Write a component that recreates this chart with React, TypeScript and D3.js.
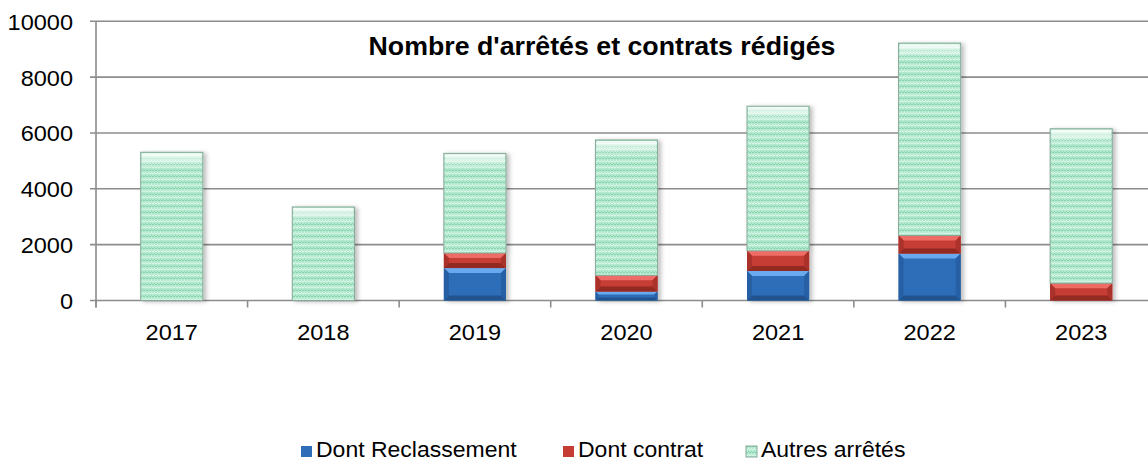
import React, { useEffect, useRef } from "react";
import * as d3 from "d3";

const years = ["2017", "2018", "2019", "2020", "2021", "2022", "2023"];
const reclassement = [0, 0, 1160, 320, 1060, 1680, 0];
const contrat = [0, 0, 540, 580, 720, 650, 620];
const autres = [5310, 3350, 3570, 4850, 5180, 6890, 5530];
const yTicks = [0, 2000, 4000, 6000, 8000, 10000];
const seriesNames = ["Dont Reclassement", "Dont contrat", "Autres arrêtés"];
const title = "Nombre d'arrêtés et contrats rédigés";

const W = 1148;
const H = 462;
const FONT = "'Liberation Sans', Arial, sans-serif";
const STRETCH = 1.07; // text in the original is a little wide

const App = () => {
  const svgRef = useRef<SVGSVGElement>(null);

  useEffect(() => {
    const svg = d3.select(svgRef.current);
    svg.selectAll("*").remove();

    const left = 96, right = 1157, top = 21.3, bottom = 300.5;

    const x = d3.scaleBand().domain(years).range([left, right]).paddingInner(0.59).paddingOuter(0.295);
    const y = d3.scaleLinear().domain([0, 10000]).range([bottom, top]);

    const defs = svg.append("defs");

    // textured mint pattern for "Autres arrêtés"
    const pat = defs.append("pattern")
      .attr("id", "weave").attr("patternUnits", "userSpaceOnUse")
      .attr("width", 6).attr("height", 6);
    pat.append("rect").attr("width", 6).attr("height", 6).attr("fill", "#b2e9cf");
    pat.append("path").attr("d", "M0,3 L1.5,1.5 L3,3 L4.5,1.5 L6,3")
      .attr("stroke", "#8ad2ae").attr("stroke-width", 1).attr("fill", "none");
    pat.append("path").attr("d", "M0,6 L1.5,4.5 L3,6 L4.5,4.5 L6,6")
      .attr("stroke", "#e3f8ee").attr("stroke-width", 0.9).attr("fill", "none");

    const shine = defs.append("linearGradient").attr("id", "shine")
      .attr("x1", 0).attr("y1", 0).attr("x2", 0).attr("y2", 1);
    shine.append("stop").attr("offset", 0).attr("stop-color", "#fff").attr("stop-opacity", 0.85);
    shine.append("stop").attr("offset", 1).attr("stop-color", "#fff").attr("stop-opacity", 0);

    const shadow = defs.append("filter").attr("id", "shadow")
      .attr("x", "-20%").attr("y", "-20%").attr("width", "150%").attr("height", "140%");
    shadow.append("feDropShadow").attr("dx", 3).attr("dy", 1).attr("stdDeviation", 2)
      .attr("flood-color", "#000").attr("flood-opacity", 0.25);

    const bevel = [
      { main: "#2f6db8", light: "#69a9ee", dark: "#21528f", side: "#285fa3" },
      { main: "#c53c34", light: "#ee6c66", dark: "#922924", side: "#ab322c" },
    ];

    const label = (sel: any, tx: number, ty: number, size: number) =>
      sel.attr("transform", `translate(${tx},${ty}) scale(${STRETCH},1)`)
        .attr("font-family", FONT).attr("font-size", size).attr("fill", "#000");

    // gridlines
    svg.append("g").selectAll("line").data(yTicks).enter().append("line")
      .attr("x1", left - 6).attr("x2", right)
      .attr("y1", d => y(d)).attr("y2", d => y(d))
      .attr("stroke", "#8c8c8c").attr("stroke-width", 1.6);

    // y axis line
    svg.append("line").attr("x1", left).attr("x2", left)
      .attr("y1", top).attr("y2", bottom + 7)
      .attr("stroke", "#8c8c8c").attr("stroke-width", 1.6);

    // x ticks between categories
    const bounds = years.map((d) => x(d)! - (x.step() - x.bandwidth()) / 2).concat([right]);
    svg.append("g").selectAll("line").data(bounds).enter().append("line")
      .attr("x1", d => d).attr("x2", d => d)
      .attr("y1", bottom).attr("y2", bottom + 7)
      .attr("stroke", "#8c8c8c").attr("stroke-width", 1.6);

    // y labels
    yTicks.forEach((t) => {
      label(svg.append("text"), 73, y(t) + 8.5, 22).attr("text-anchor", "end").text(String(t));
    });

    // x labels
    years.forEach((yr) => {
      label(svg.append("text"), x(yr)! + x.bandwidth() / 2, 340, 22).attr("text-anchor", "middle").text(yr);
    });

    // bars
    const bw = x.bandwidth();
    years.forEach((yr, i) => {
      const x0 = x(yr)!;
      const g = svg.append("g").attr("filter", "url(#shadow)");
      const vals = [reclassement[i], contrat[i], autres[i]];
      let base = 0;
      vals.forEach((v, s) => {
        if (v <= 0) return;
        const y1 = y(base + v), y0 = y(base);
        const h = y0 - y1;
        base += v;
        if (s === 2) {
          g.append("rect").attr("x", x0).attr("y", y1).attr("width", bw).attr("height", h)
            .attr("fill", "url(#weave)").attr("stroke", "#86a898").attr("stroke-width", 1);
          g.append("rect").attr("x", x0 + 1).attr("y", y1 + 1).attr("width", bw - 2)
            .attr("height", Math.min(14, h - 2)).attr("fill", "url(#shine)");
          return;
        }
        const c = bevel[s];
        const b = Math.min(5, h / 3);
        const pts = (p: number[][]) => p.map(q => q.join(",")).join(" ");
        g.append("rect").attr("x", x0).attr("y", y1).attr("width", bw).attr("height", h).attr("fill", c.main);
        g.append("polygon").attr("points", pts([[x0, y1], [x0 + bw, y1], [x0 + bw - b, y1 + b], [x0 + b, y1 + b]]))
          .attr("fill", c.light);
        g.append("polygon").attr("points", pts([[x0, y0], [x0 + bw, y0], [x0 + bw - b, y0 - b], [x0 + b, y0 - b]]))
          .attr("fill", c.dark);
        g.append("polygon").attr("points", pts([[x0, y1], [x0 + b, y1 + b], [x0 + b, y0 - b], [x0, y0]]))
          .attr("fill", c.side);
        g.append("polygon").attr("points", pts([[x0 + bw, y1], [x0 + bw - b, y1 + b], [x0 + bw - b, y0 - b], [x0 + bw, y0]]))
          .attr("fill", c.side);
      });
    });

    // title
    label(svg.append("text"), 602, 55, 25).attr("text-anchor", "middle")
      .attr("font-weight", "bold").text(title);

    // legend
    const legendX = [301, 563, 746];
    const legendFill = ["#2f6db8", "#c53c34", "url(#weave)"];
    seriesNames.forEach((name, i) => {
      svg.append("rect").attr("x", legendX[i]).attr("y", 446).attr("width", 11).attr("height", 11)
        .attr("fill", legendFill[i]).attr("stroke", i === 2 ? "#86a898" : "none");
      label(svg.append("text"), legendX[i] + 15, 457, 21.5).text(name);
    });
  }, []);

  return (
    <svg ref={svgRef} width={W} height={H}
      style={{ position: "absolute", left: 0, top: 0, display: "block", background: "#fff" }} />
  );
};

export default App;
